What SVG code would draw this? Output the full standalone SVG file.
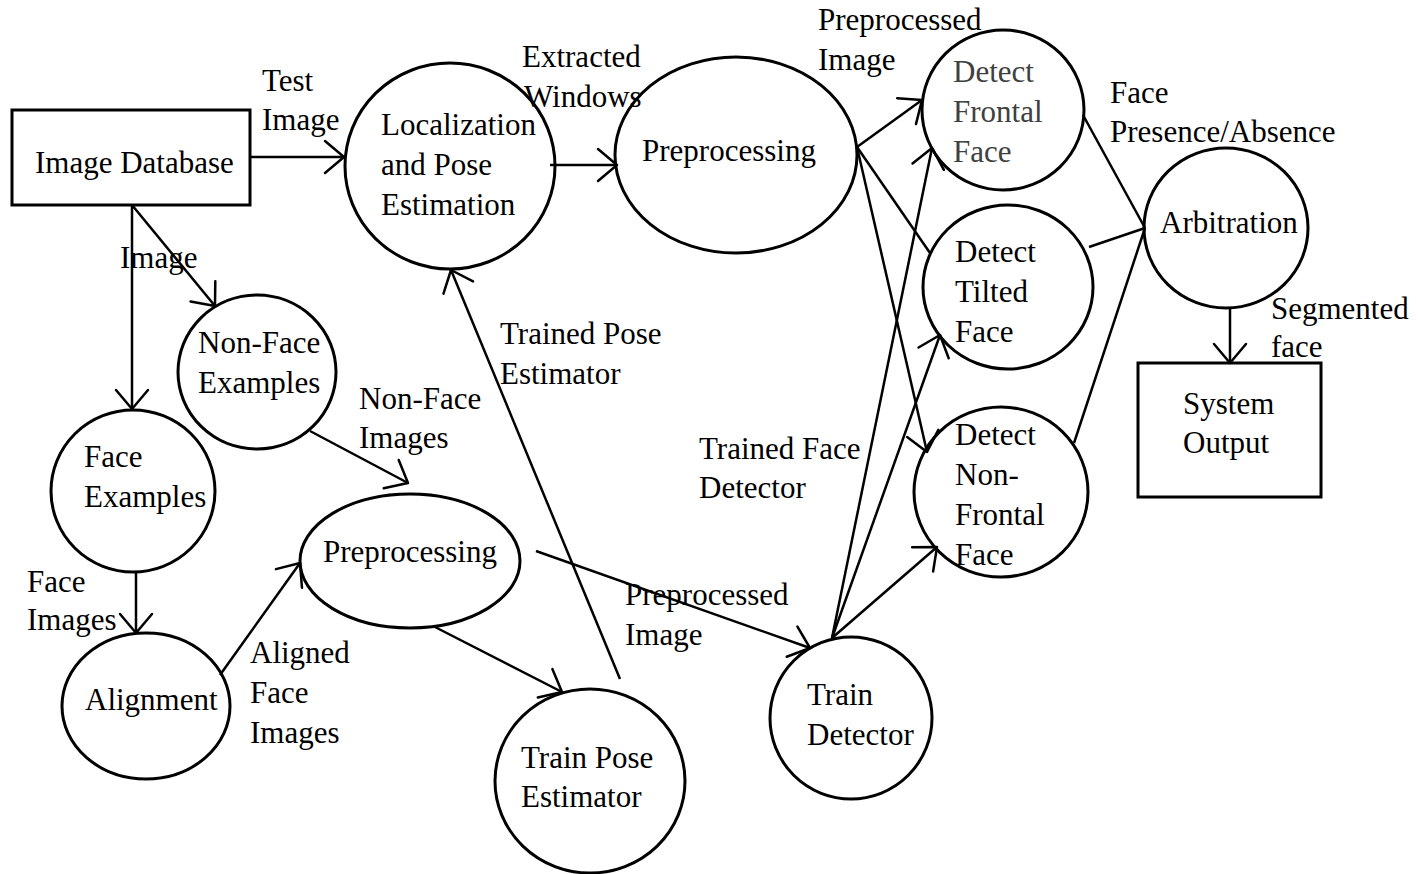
<svg xmlns="http://www.w3.org/2000/svg" width="1418" height="874" viewBox="0 0 1418 874">
  <defs>
    <marker id="open-arrow" markerUnits="userSpaceOnUse" markerWidth="40" markerHeight="40" viewBox="-22 -20 24 40" refX="0" refY="0" orient="auto">
      <path d="M -19 -16 L 0 0 L -19 16" fill="none" stroke="#000" stroke-width="2.5" stroke-linecap="round" stroke-linejoin="round"/>
    </marker>
    <style>
      .shape { fill: #fff; stroke: #000; stroke-width: 3; }
      .edge { fill: none; stroke: #000; stroke-width: 2.5; }
      .arrow { marker-end: url(#open-arrow); }
      text { font-family: "Liberation Serif", "Times New Roman", serif; font-size: 31px; fill: #000; }
      .gray { fill: #404040; }
    </style>
  </defs>
  <rect width="1418" height="874" fill="#fff"/>

  <!-- nodes -->
  <g id="image-database">
    <rect class="shape" x="12" y="110" width="238" height="95"/>
    <text x="35" y="173">Image Database</text>
  </g>
  <g id="localization">
    <ellipse class="shape" cx="450" cy="166" rx="105" ry="103"/>
    <text x="381" y="135">Localization</text>
    <text x="381" y="175">and Pose</text>
    <text x="381" y="215">Estimation</text>
  </g>
  <g id="preprocessing-top">
    <ellipse class="shape" cx="736" cy="155" rx="121" ry="98"/>
    <text x="642" y="161">Preprocessing</text>
  </g>
  <g id="detect-frontal">
    <ellipse class="shape" cx="1003" cy="110" rx="81" ry="80"/>
    <text class="gray" x="953" y="82">Detect</text>
    <text class="gray" x="953" y="122">Frontal</text>
    <text class="gray" x="953" y="162">Face</text>
  </g>
  <g id="detect-tilted">
    <ellipse class="shape" cx="1008" cy="287" rx="85" ry="82"/>
    <text x="955" y="262">Detect</text>
    <text x="955" y="302">Tilted</text>
    <text x="955" y="342">Face</text>
  </g>
  <g id="detect-non-frontal">
    <ellipse class="shape" cx="1001" cy="492" rx="87" ry="85"/>
    <text x="955" y="445">Detect</text>
    <text x="955" y="485">Non-</text>
    <text x="955" y="525">Frontal</text>
    <text x="955" y="565">Face</text>
  </g>
  <g id="arbitration">
    <ellipse class="shape" cx="1226" cy="228" rx="82" ry="80"/>
    <text x="1160" y="233">Arbitration</text>
  </g>
  <g id="system-output">
    <rect class="shape" x="1138" y="363" width="183" height="134"/>
    <text x="1183" y="414">System</text>
    <text x="1183" y="453">Output</text>
  </g>
  <g id="non-face-examples">
    <ellipse class="shape" cx="257" cy="372" rx="79" ry="77"/>
    <text x="198" y="353">Non-Face</text>
    <text x="198" y="393">Examples</text>
  </g>
  <g id="face-examples">
    <ellipse class="shape" cx="133" cy="491" rx="82" ry="81"/>
    <text x="84" y="467">Face</text>
    <text x="84" y="507">Examples</text>
  </g>
  <g id="alignment">
    <ellipse class="shape" cx="146" cy="706" rx="84" ry="73"/>
    <text x="85" y="710">Alignment</text>
  </g>
  <g id="preprocessing-bottom">
    <ellipse class="shape" cx="410" cy="561" rx="110" ry="67"/>
    <text x="323" y="562">Preprocessing</text>
  </g>
  <g id="train-pose-estimator">
    <ellipse class="shape" cx="590" cy="781" rx="95" ry="92"/>
    <text x="521" y="768">Train Pose</text>
    <text x="521" y="807">Estimator</text>
  </g>
  <g id="train-detector">
    <ellipse class="shape" cx="851" cy="718" rx="81" ry="81"/>
    <text x="807" y="705">Train</text>
    <text x="807" y="745">Detector</text>
  </g>

  <!-- connectors -->
  <g id="connectors">
    <line class="edge arrow" x1="250" y1="157" x2="344" y2="157"/>
    <line class="edge arrow" x1="132" y1="205" x2="215" y2="306"/>
    <line class="edge arrow" x1="132" y1="205" x2="132" y2="409"/>
    <line class="edge arrow" x1="136" y1="572" x2="136" y2="633"/>
    <line class="edge arrow" x1="220" y1="675" x2="300" y2="563"/>
    <line class="edge arrow" x1="310" y1="431" x2="408" y2="483"/>
    <line class="edge arrow" x1="435" y1="627" x2="562" y2="692"/>
    <line class="edge arrow" x1="536" y1="551" x2="810" y2="648"/>
    <line class="edge arrow" x1="620" y1="679" x2="451" y2="270"/>
    <line class="edge arrow" x1="550" y1="165" x2="617" y2="165"/>
    <line class="edge arrow" x1="857" y1="147" x2="922" y2="100"/>
    <line class="edge" x1="857" y1="147" x2="930" y2="253"/>
    <line class="edge arrow" x1="857" y1="147" x2="927" y2="452"/>
    <line class="edge arrow" x1="832" y1="638" x2="932" y2="148"/>
    <line class="edge arrow" x1="832" y1="638" x2="940" y2="335"/>
    <line class="edge arrow" x1="832" y1="638" x2="937" y2="547"/>
    <line class="edge" x1="1083" y1="115" x2="1145" y2="228"/>
    <line class="edge" x1="1089" y1="247" x2="1145" y2="228"/>
    <line class="edge" x1="1074" y1="443" x2="1145" y2="228"/>
    <line class="edge arrow" x1="1230" y1="308" x2="1230" y2="363"/>
  </g>

  <!-- connector labels -->
  <g id="labels">
    <text x="262" y="91">Test</text>
    <text x="262" y="130">Image</text>
    <text x="120" y="268">Image</text>
    <text x="522" y="67">Extracted</text>
    <text x="524" y="107">Windows</text>
    <text x="818" y="30">Preprocessed</text>
    <text x="818" y="70">Image</text>
    <text x="1110" y="103">Face</text>
    <text x="1110" y="142">Presence/Absence</text>
    <text x="1271" y="319">Segmented</text>
    <text x="1271" y="357">face</text>
    <text x="500" y="344">Trained Pose</text>
    <text x="500" y="384">Estimator</text>
    <text x="359" y="409">Non-Face</text>
    <text x="359" y="448">Images</text>
    <text x="699" y="459">Trained Face</text>
    <text x="699" y="498">Detector</text>
    <text x="27" y="592">Face</text>
    <text x="27" y="630">Images</text>
    <text x="625" y="605">Preprocessed</text>
    <text x="625" y="645">Image</text>
    <text x="250" y="663">Aligned</text>
    <text x="250" y="703">Face</text>
    <text x="250" y="743">Images</text>
  </g>
</svg>
